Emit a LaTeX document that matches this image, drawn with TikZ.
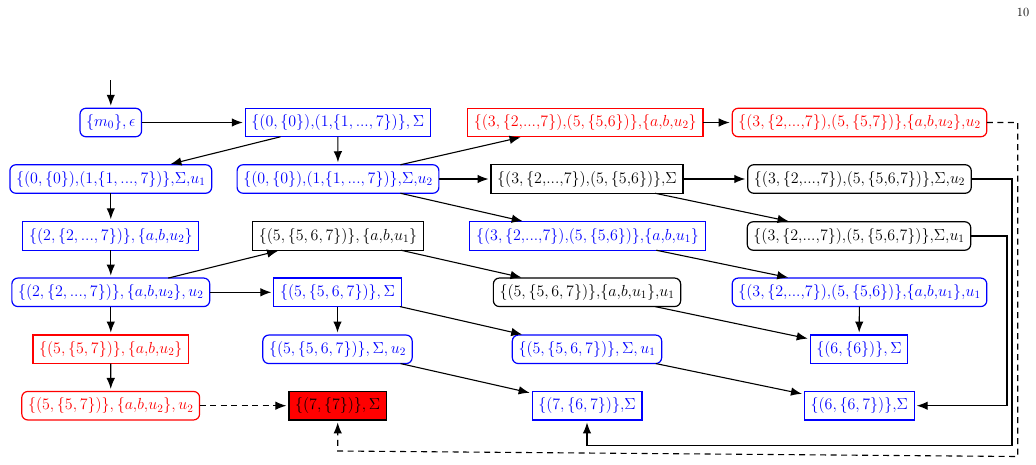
\RequirePackage{fix-cm}
\documentclass[tikz,border=0pt]{standalone}
\usetikzlibrary{arrows.meta}
\tikzset{
  st/.style={draw, line width=1.2pt, minimum height=28.5pt, inner xsep=6.2pt, inner ysep=2pt,
             font=\fontsize{16}{19}\selectfont, outer sep=0pt},
  rnd/.style={st, rounded corners=6pt},
  sq/.style={st},
  bl/.style={draw=blue, text=blue},
  rd/.style={draw=red, text=red},
  bk/.style={draw=black, text=black},
  edge/.style={line width=1.1pt, -{Latex[length=11pt,width=8.5pt]}, shorten >=2.5pt},
  dedge/.style={edge, dash pattern=on 6pt off 4.5pt},
}
\begin{document}
\begin{tikzpicture}[x=1pt,y=-1pt]
\useasboundingbox (0,0) rectangle (1036,464);
\node[font=\fontsize{12.5}{14}\selectfont, inner sep=0pt] (pg) at (1023,12.5) {10};

% row 1
\node[rnd,bl] (n0) at (110.8,122.5) {$\{m_0\},\epsilon$};
\node[sq,bl] (a1) at (337.8,122.5) {$\{(0,\{0\}){,}(1{,}\{1,...,7\})\},\Sigma$};
\node[sq,rd] (r1) at (585.3,122.5) {$\{(3,\{2{,}...{,}7\}){,}(5,\{5{,}6\})\}{,}\{a{,}b{,}u_2\}$};
\node[rnd,rd] (r2) at (859.5,122.5) {$\{(3,\{2{,}...{,}7\}){,}(5,\{5{,}7\})\}{,}\{a{,}b{,}u_2\}{,}u_2$};
% row 2
\node[rnd,bl] (b1) at (110.8,179) {$\{(0,\{0\}){,}(1{,}\{1,...,7\})\}{,}\Sigma{,}u_1$};
\node[rnd,bl] (b2) at (338,179) {$\{(0,\{0\}){,}(1{,}\{1,...,7\})\}{,}\Sigma{,}u_2$};
\node[sq,bk] (c2) at (587,179) {$\{(3,\{2{,}...{,}7\}){,}(5,\{5{,}6\})\}{,}\Sigma$};
\node[rnd,bk] (c3) at (859.5,179) {$\{(3,\{2{,}...{,}7\}){,}(5,\{5{,}6{,}7\})\}{,}\Sigma{,}u_2$};
% row 3
\node[sq,bl] (d1) at (110.8,236) {$\{(2,\{2,...,7\})\},\{a{,}b{,}u_2\}$};
\node[sq,bk] (d2) at (338,236) {$\{(5,\{5,6,7\})\},\{a{,}b{,}u_1\}$};
\node[sq,bl] (d3) at (587.5,236) {$\{(3,\{2{,}...{,}7\}){,}(5,\{5{,}6\})\}{,}\{a{,}b{,}u_1\}$};
\node[rnd,bk] (d4) at (859,236) {$\{(3,\{2{,}...{,}7\}){,}(5,\{5{,}6{,}7\})\}{,}\Sigma{,}u_1$};
% row 4
\node[rnd,bl] (e1) at (110.8,292.3) {$\{(2,\{2,...,7\})\},\{a{,}b{,}u_2\},u_2$};
\node[sq,bl] (e2) at (337.5,292.3) {$\{(5,\{5,6,7\})\},\Sigma$};
\node[rnd,bk] (e3) at (587,292.3) {$\{(5,\{5,6,7\})\}{,}\{a{,}b{,}u_1\}{,}u_1$};
\node[rnd,bl] (e4) at (859.5,292.3) {$\{(3,\{2{,}...{,}7\}){,}(5,\{5{,}6\})\}{,}\{a{,}b{,}u_1\}{,}u_1$};
% row 5
\node[sq,rd] (f1) at (110.8,349.3) {$\{(5,\{5,7\})\},\{a{,}b{,}u_2\}$};
\node[rnd,bl] (f2) at (337.5,349.3) {$\{(5,\{5,6,7\})\},\Sigma,u_2$};
\node[rnd,bl] (f3) at (587,349.3) {$\{(5,\{5,6,7\})\},\Sigma,u_1$};
\node[sq,bl] (f4) at (859,349.3) {$\{(6,\{6\})\},\Sigma$};
% row 6
\node[rnd,rd] (g1) at (110.7,405.7) {$\{(5,\{5,7\})\},\{a{,}b{,}u_2\},u_2$};
\node[sq,bk,fill=red] (g2) at (337.7,405.7) {$\{(7,\{7\})\},\Sigma$};
\node[sq,bl] (g3) at (587,405.7) {$\{(7,\{6,7\})\}{,}\Sigma$};
\node[sq,bl] (g4) at (859.3,405.7) {$\{(6,\{6,7\})\}{,}\Sigma$};

% routing coordinates
\coordinate (s0) at (110.8,80);
\coordinate (dA) at (1017.7,122.5);
\coordinate (dB) at (1017.7,456.5);
\coordinate (dC) at (337.7,451);
\coordinate (uB) at (1012,445.3);
\coordinate (vB) at (1007,405.7);

% edges
\draw[edge] (s0) -- (n0);
\draw[edge] (n0) -- (a1);
\draw[edge] (a1) -- (b1);
\draw[edge] (a1) -- (b2);
\draw[edge] (b1) -- (d1);
\draw[edge] (b2) -- (r1);
\draw[edge] (b2) -- (c2);
\draw[edge] (b2) -- (d3);
\draw[edge] (r1) -- (r2);
\draw[dedge] (r2.east) -- (dA) -- (dB) -- (dC) -- (g2.south);
\draw[edge] (c2) -- (c3);
\draw[edge] (c2) -- (d4);
\draw[edge] (c3.east) -| (uB) -| (g3.south);
\draw[edge] (d1) -- (e1);
\draw[edge] (d2) -- (e3);
\draw[edge] (d3) -- (e4);
\draw[edge] (d4.east) -| (vB) -- (g4.east);
\draw[edge] (e1) -- (d2);
\draw[edge] (e1) -- (e2);
\draw[edge] (e1) -- (f1);
\draw[edge] (e2) -- (f2);
\draw[edge] (e2) -- (f3);
\draw[edge] (e3) -- (f4);
\draw[edge] (e4) -- (f4);
\draw[edge] (f1) -- (g1);
\draw[edge] (f2) -- (g3);
\draw[edge] (f3) -- (g4);
\draw[dedge] (g1) -- (g2);
\end{tikzpicture}
\end{document}
